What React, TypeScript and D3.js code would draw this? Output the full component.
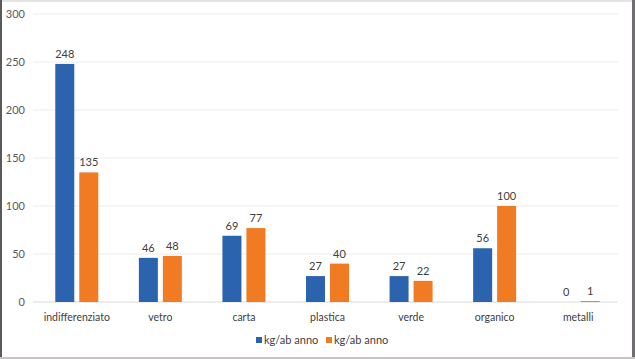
import React from "react";
import * as d3 from "d3";

const categories = ["indifferenziato", "vetro", "carta", "plastica", "verde", "organico", "metalli"];
const seriesA = [248, 46, 69, 27, 27, 56, 0];
const seriesB = [135, 48, 77, 40, 22, 100, 1];
const seriesNames = ["kg/ab anno", "kg/ab anno"];
const yTicks = [0, 50, 100, 150, 200, 250, 300];

const W = 635, H = 359;
const colors = ["#2C63AE", "#F07B22"];
const font = "Lato, 'Open Sans', sans-serif";

export default function App() {
  const x = d3.scaleBand().domain(categories).range([35, 620]);
  const y = d3.scaleLinear().domain([0, 300]).range([302, 14]);
  const bw = 19;
  const gap = 5;
  return (
    <svg width={W} height={H} style={{ position: "absolute", left: 0, top: 0 }}>
      <rect x={0} y={0} width={W} height={H} fill="#ffffff" />
      <rect x={0} y={0} width={W} height={2} fill="#e4e4e4" />
      <rect x={0} y={0} width={2} height={H} fill="#5a5a5a" />
      <rect x={632} y={0} width={3} height={H} fill="#726d72" />
      <rect x={0} y={357} width={W} height={2} fill="#c9c3c6" />
      {yTicks.map((t) => (
        <g key={t}>
          <line x1={33} x2={618} y1={y(t)} y2={y(t)} stroke={t === 0 ? "#d9d9d9" : "#ececec"} strokeWidth={1} />
          <text x={25} y={y(t)} dy="0.35em" textAnchor="end" fontFamily={font} fontSize={11} fill="#595959">{t}</text>
        </g>
      ))}
      {categories.map((c, i) => {
        const cx = (x(c) as number) + x.bandwidth() / 2;
        const xa = cx - gap / 2 - bw;
        const xb = cx + gap / 2;
        return (
          <g key={c}>
            <rect x={xa} y={y(seriesA[i])} width={bw} height={y(0) - y(seriesA[i])} fill={colors[0]} />
            <rect x={xb} y={y(seriesB[i])} width={bw} height={y(0) - y(seriesB[i])} fill={colors[1]} />
            <text x={xa + bw / 2} y={y(seriesA[i]) - 6} textAnchor="middle" fontFamily={font} fontSize={11} fill="#404040">{seriesA[i]}</text>
            <text x={xb + bw / 2} y={y(seriesB[i]) - 6} textAnchor="middle" fontFamily={font} fontSize={11} fill="#404040">{seriesB[i]}</text>
            <text x={cx} y={321} textAnchor="middle" fontFamily={font} fontSize={10.5} fill="#404040">{c}</text>
          </g>
        );
      })}
      {seriesNames.map((n, i) => (
        <g key={i} transform={`translate(${256 + i * 70},340)`}>
          <rect x={0} y={-3} width={6} height={6} fill={colors[i]} />
          <text x={8} y={0} dy="0.35em" fontFamily={font} fontSize={11} fill="#404040">{n}</text>
        </g>
      ))}
    </svg>
  );
}
